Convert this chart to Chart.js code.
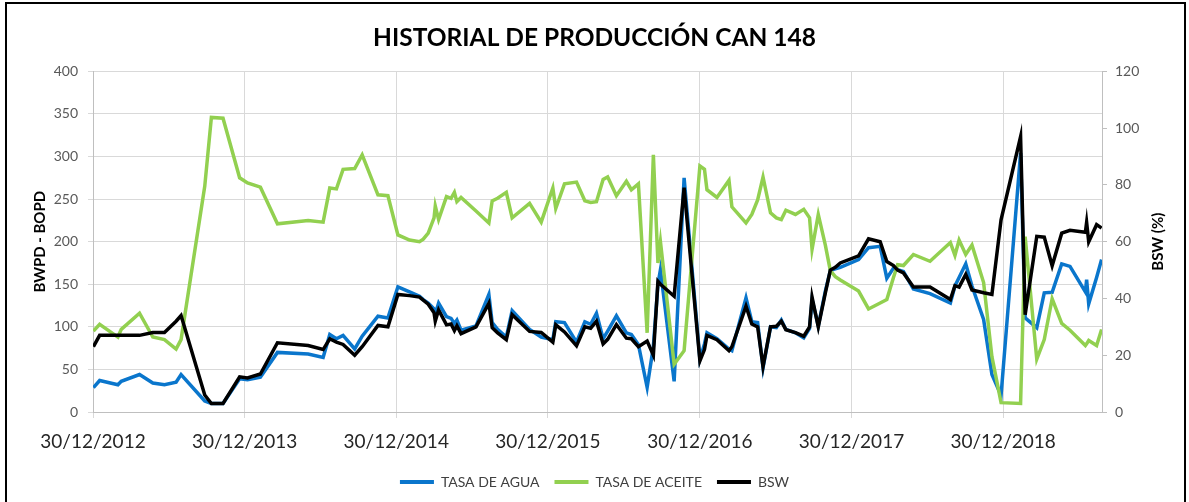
<!DOCTYPE html>
<html lang="es">
<head>
  <meta charset="UTF-8">
  <title>Historial de producción CAN 148</title>
  <script src="https://cdn.jsdelivr.net/npm/chart.js@4.4.1/dist/chart.umd.min.js"></script>
  <style>
    body { margin: 0; overflow: hidden; background: #fff; }
    #lienzo { position: relative; width: 1189px; height: 502px; }
    #marco { position: absolute; left: 5px; top: 2px; width: 1177px; height: 540px; border: 2px solid #000; pointer-events: none; }
  </style>
</head>
<body>
  <div id="lienzo">
    <canvas id="grafico" width="1189" height="502"></canvas>
    <div id="marco"></div>
  </div>

  <script>
    // fechas de muestreo (dd/mm/aaaa)
    const fechas = [
      '31/12/2012', '15/01/2013', '28/02/2013', '08/03/2013', '21/04/2013', '23/05/2013', '20/06/2013', '18/07/2013',
      '30/07/2013', '25/09/2013', '11/10/2013', '08/11/2013', '18/12/2013', '06/01/2014', '06/02/2014', '19/03/2014',
      '01/06/2014', '07/07/2014', '23/07/2014', '08/08/2014', '24/08/2014', '21/09/2014', '09/10/2014', '16/11/2014',
      '10/12/2014', '03/01/2015', '31/01/2015', '24/02/2015', '05/03/2015', '17/03/2015', '31/03/2015', '03/04/2015',
      '11/04/2015', '30/04/2015', '11/05/2015', '19/05/2015', '25/05/2015', '04/06/2015', '10/07/2015', '10/08/2015',
      '18/08/2015', '31/08/2015', '21/09/2015', '05/10/2015', '16/11/2015', '14/12/2015', '11/01/2016', '18/01/2016',
      '08/02/2016', '08/03/2016', '28/03/2016', '11/04/2016', '25/04/2016', '11/05/2016', '22/05/2016', '12/06/2016',
      '06/07/2016', '18/07/2016', '04/08/2016', '25/08/2016', '09/09/2016', '20/09/2016', '26/09/2016', '29/10/2016',
      '22/11/2016', '30/12/2016', '10/01/2017', '16/01/2017', '09/02/2017', '10/03/2017', '17/03/2017', '20/04/2017',
      '04/05/2017', '18/05/2017', '31/05/2017', '18/06/2017', '02/07/2017', '14/07/2017', '25/07/2017', '17/08/2017',
      '06/09/2017', '20/09/2017', '26/09/2017', '11/10/2017', '28/10/2017', '09/11/2017', '21/11/2017', '03/12/2017',
      '16/01/2018', '09/02/2018', '09/03/2018', '25/03/2018', '10/04/2018', '20/04/2018', '04/05/2018', '28/05/2018',
      '07/07/2018', '25/08/2018', '05/09/2018', '15/09/2018', '01/10/2018', '16/10/2018', '13/11/2018', '03/12/2018',
      '25/12/2018', '10/02/2019', '21/02/2019', '21/03/2019', '08/04/2019', '27/04/2019', '20/05/2019', '09/06/2019',
      '16/07/2019', '19/07/2019', '24/07/2019', '12/08/2019', '24/08/2019'
    ];

    // BWPD
    const tasaAgua = [
      28.5, 37, 32, 36, 44, 34, 32, 35, 44, 13, 10, 10, 39, 38, 41, 70,
      68, 64, 91, 86, 90, 74, 89, 112.5, 110.5, 147, 141, 136, 132, 128, 121, 115,
      128, 112, 110, 104, 108, 96, 101, 138, 105, 97, 88, 119, 97, 88, 85, 106,
      105, 82, 106, 103, 116, 86, 95, 113, 93, 91, 79, 29, 77, 150, 167, 36,
      275, 62, 80, 93, 86, 74, 72, 134, 106, 105, 52, 100, 99, 108, 97, 93,
      87, 98, 132, 101, 142, 166, 168, 170, 179, 193, 194.5, 157, 169, 167, 165, 144.5,
      139, 128, 148, 158, 174, 148, 108.6, 44, 19.5, 304, 110.5, 99, 140, 140.6, 174, 171,
      141, 155.5, 127, 158, 179
    ];

    // BOPD
    const tasaAceite = [
      95, 103, 88, 97, 116, 88, 85, 74, 85, 265, 346, 345, 275, 269, 264, 221,
      225, 223, 263, 262, 285, 286, 302, 255, 254, 208, 202, 200, 203, 210, 228, 242,
      226, 253, 251, 258, 247, 252, 236, 222, 248, 251, 258, 228, 245, 223, 263, 239,
      268, 270, 248, 246, 247, 273, 276, 254, 271, 261, 268, 93, 302, 175, 200, 56,
      72, 289, 285, 261, 252, 272, 241, 222, 232, 249, 276, 234, 228, 226, 237, 232,
      238, 228, 191, 232, 196, 166, 159, 155, 142, 121, 128, 132, 158, 173, 172, 185,
      177, 199, 184, 202, 185, 196, 152, 65, 11, 10, 206, 62, 85, 133, 104, 96,
      78, 80, 84, 78, 97
    ];

    // BSW (%)
    const bsw = [
      23, 27, 27, 27, 27, 28, 28, 32, 34, 6, 3, 3, 12.4, 12, 13.4, 24.4,
      23.4, 22, 25.8, 24.6, 23.8, 20, 23, 30.5, 30, 41.4, 41, 40.5, 39.4, 38, 35, 32,
      36, 30.7, 31, 28.7, 30.4, 27.6, 30, 38.3, 29.7, 27.9, 25.5, 34.3, 28.4, 28, 24.6, 30.7,
      28.2, 23.3, 30, 29.5, 32, 24, 25.6, 30.8, 26, 25.8, 23, 25, 20, 46, 45, 40.8,
      79, 18, 22, 27, 25.5, 21.6, 23, 37.3, 31, 30, 16, 30, 30.2, 32, 29, 28,
      26.7, 30, 40.5, 30, 42, 50, 51, 52.5, 55, 61, 60, 53, 51.6, 50, 49, 44,
      44, 39.6, 44.5, 44, 48.5, 43, 42, 41.4, 67.7, 97, 34.3, 61.9, 61.6, 51.5, 63, 64,
      63.3, 66.8, 60, 66, 64.8
    ];

    const etiquetasX = ['30/12/2012', '30/12/2013', '30/12/2014', '30/12/2015', '30/12/2016', '30/12/2017', '30/12/2018'];
    const fechaFin = '25/08/2019';

    function dia(s) {
      const [d, m, a] = s.split('/').map(Number);
      return Date.UTC(a, m - 1, d) / 86400000;
    }
    const serie = vals => fechas.map((f, i) => ({ x: dia(f), y: vals[i] }));

    const FUENTE = 'Lato, "Open Sans", sans-serif';

    const tituloDerecho = {
      id: 'tituloDerecho',
      afterDraw(chart) {
        const { ctx, chartArea } = chart;
        ctx.save();
        ctx.translate(1158, (chartArea.top + chartArea.bottom) / 2);
        ctx.rotate(-Math.PI / 2);
        ctx.font = 'bold 15px ' + FUENTE;
        ctx.fillStyle = '#000';
        ctx.textAlign = 'center';
        ctx.textBaseline = 'middle';
        ctx.fillText('BSW (%)', 0, 0);
        ctx.restore();
      }
    };

    new Chart(document.getElementById('grafico'), {
      type: 'line',
      data: {
        datasets: [
          { label: 'TASA DE AGUA', data: serie(tasaAgua), borderColor: '#0a76cc', backgroundColor: '#0a76cc', yAxisID: 'y', order: 3 },
          { label: 'TASA DE ACEITE', data: serie(tasaAceite), borderColor: '#92d050', backgroundColor: '#92d050', yAxisID: 'y', order: 2 },
          { label: 'BSW', data: serie(bsw), borderColor: '#000000', backgroundColor: '#000000', yAxisID: 'y2', order: 1 }
        ]
      },
      options: {
        responsive: false,
        animation: false,
        datasets: { line: { borderWidth: 3.5, pointRadius: 0, tension: 0 } },
        layout: { padding: { left: 0, right: 0, top: 0, bottom: 3 } },
        plugins: {
          tooltip: { enabled: false },
          title: {
            display: true,
            text: 'HISTORIAL DE PRODUCCIÓN CAN 148',
            color: '#000',
            font: { family: FUENTE, size: 24.5, weight: 'bold' },
            padding: { top: 23, bottom: 19 }
          },
          legend: {
            position: 'bottom',
            labels: {
              color: '#404040',
              font: { family: FUENTE, size: 14 },
              boxWidth: 34,
              boxHeight: 4,
              padding: 15,
              sort: (a, b) => a.datasetIndex - b.datasetIndex,
              generateLabels: chart => Chart.defaults.plugins.legend.labels.generateLabels(chart).map(l => ({ ...l, lineWidth: 0 }))
            }
          }
        },
        scales: {
          x: {
            type: 'linear',
            min: dia(etiquetasX[0]),
            max: dia(fechaFin),
            afterBuildTicks: scale => { scale.ticks = etiquetasX.map(s => ({ value: dia(s) })); },
            afterFit: scale => { scale.height = 48; },
            grid: { color: '#d9d9d9', tickLength: 6 },
            border: { color: '#bfbfbf' },
            ticks: {
              autoSkip: false,
              maxRotation: 0,
              padding: 12,
              color: '#262626',
              font: { family: FUENTE, size: 19 },
              callback: v => etiquetasX.find(s => dia(s) === v) || ''
            }
          },
          y: {
            position: 'left',
            min: 0, max: 400,
            afterFit: scale => { scale.width = 93; },
            grid: { color: '#d9d9d9', tickLength: 5 },
            border: { color: '#bfbfbf' },
            ticks: { stepSize: 50, padding: 10, color: '#595959', font: { family: FUENTE, size: 14 } },
            title: {
              display: true,
              text: 'BWPD - BOPD',
              color: '#000',
              font: { family: FUENTE, size: 15, weight: 'bold' },
              padding: { top: 31, bottom: 0 }
            }
          },
          y2: {
            position: 'right',
            min: 0, max: 120,
            afterFit: scale => { scale.width = 87; },
            grid: { drawOnChartArea: false, color: '#bfbfbf', tickLength: 5 },
            border: { color: '#bfbfbf' },
            ticks: { stepSize: 20, padding: 8, color: '#595959', font: { family: FUENTE, size: 14 } }
          }
        }
      },
      plugins: [tituloDerecho]
    });
  </script>
</body>
</html>
